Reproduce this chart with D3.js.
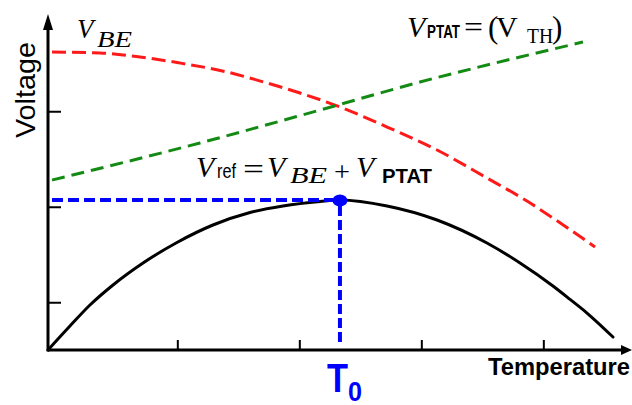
<!DOCTYPE html>
<html>
<head>
<meta charset="utf-8">
<script src="https://cdn.jsdelivr.net/npm/d3@7"></script>
<style>
  html, body { margin: 0; padding: 0; background: #fff; }
  svg { display: block; }
  .sans { font-family: "Liberation Sans", Arial, sans-serif; }
  .serif { font-family: "Liberation Serif", "Times New Roman", serif; }
</style>
</head>
<body>
<svg id="chart" width="632" height="405"></svg>
<script>
// Temperature / voltage curves of a bandgap reference (arbitrary units)
const tempTicks = [1.06, 2.06, 3.06, 4.06];
const voltTicks = [0.5, 1.5, 2.5];

// V_BE: falls with temperature
const vbeT = [0.033, 0.426, 0.754, 1.082, 1.467, 1.795, 2.066, 2.393, 2.779, 3.189, 3.598, 3.926, 4.139, 4.320, 4.484];
const vbeV = [3.120, 3.110, 3.068, 3.005, 2.911, 2.796, 2.691, 2.545, 2.335, 2.094, 1.801, 1.560, 1.382, 1.225, 1.079];

// V_PTAT: rises with temperature
const ptatT = [0.033, 1.246, 2.230, 3.049, 3.869, 4.385];
const ptatV = [1.780, 2.168, 2.513, 2.806, 3.068, 3.225];

// V_ref = V_BE + V_PTAT
const refT = [0, 0.180, 0.344, 0.533, 0.779, 1.057, 1.352, 1.656, 1.926, 2.230, 2.393, 2.779, 3.189, 3.598, 3.869, 4.139, 4.279, 4.418, 4.631];
const refV = [0, 0.251, 0.471, 0.681, 0.911, 1.126, 1.309, 1.440, 1.508, 1.555, 1.571, 1.508, 1.361, 1.120, 0.911, 0.670, 0.530, 0.387, 0.136];

// turning point of V_ref
const T0 = 2.393;
const Vpeak = 1.571;

const svg = d3.select("#chart");

const x = d3.scaleLinear().domain([0, 4.8]).range([48, 48 + 4.8 * 122]);
const y = d3.scaleLinear().domain([0, 3.5]).range([350, 350 - 3.5 * 95.5]);

const zip = (a, b) => a.map((t, i) => [t, b[i]]);
const line = d3.line().x(d => x(d[0])).y(d => y(d[1])).curve(d3.curveMonotoneX);

// axes with arrow heads
const xEnd = 4.787, yEnd = 3.518;
svg.append("line")
  .attr("x1", x(0)).attr("y1", y(0)).attr("x2", x(xEnd) - 6).attr("y2", y(0))
  .attr("stroke", "#000").attr("stroke-width", 3);
svg.append("path")
  .attr("d", `M${x(xEnd)},${y(0)} L${x(xEnd) - 11},${y(0) - 5} L${x(xEnd) - 11},${y(0) + 5} Z`)
  .attr("fill", "#000");
svg.append("line")
  .attr("x1", x(0)).attr("y1", y(0) + 1.5).attr("x2", x(0)).attr("y2", y(yEnd) + 8)
  .attr("stroke", "#000").attr("stroke-width", 3);
svg.append("path")
  .attr("d", `M${x(0)},${y(yEnd)} L${x(0) - 5},${y(yEnd) + 16} L${x(0) + 5},${y(yEnd) + 16} Z`)
  .attr("fill", "#000");

const yAxis = svg.append("g")
  .attr("transform", `translate(${x(0)},0)`)
  .call(d3.axisRight(y).tickValues(voltTicks).tickSize(13).tickFormat(""));
yAxis.select(".domain").remove();
yAxis.selectAll(".tick line").attr("stroke", "#000").attr("stroke-width", 2);

const xAxis = svg.append("g")
  .attr("transform", `translate(0,${y(0)})`)
  .call(d3.axisTop(x).tickValues(tempTicks).tickSize(10).tickFormat(""));
xAxis.select(".domain").remove();
xAxis.selectAll(".tick line").attr("stroke", "#000").attr("stroke-width", 2);

// curves
svg.append("path").datum(zip(vbeT, vbeV))
  .attr("d", line).attr("fill", "none")
  .attr("stroke", "#ff1a1a").attr("stroke-width", 3).attr("stroke-dasharray", "14,6");

svg.append("path").datum(zip(ptatT, ptatV))
  .attr("d", line).attr("fill", "none")
  .attr("stroke", "#138a13").attr("stroke-width", 3).attr("stroke-dasharray", "13,7");

svg.append("path").datum(zip(refT, refV))
  .attr("d", line).attr("fill", "none")
  .attr("stroke", "#000").attr("stroke-width", 3).attr("stroke-linecap", "round");

// T0 guide lines and marker
svg.append("line")
  .attr("x1", x(0.033)).attr("y1", y(Vpeak)).attr("x2", x(T0) - 4).attr("y2", y(Vpeak))
  .attr("stroke", "#0000ff").attr("stroke-width", 4).attr("stroke-dasharray", "11,5");
svg.append("line")
  .attr("x1", x(T0)).attr("y1", y(Vpeak) + 6).attr("x2", x(T0)).attr("y2", y(0.08))
  .attr("stroke", "#0000ff").attr("stroke-width", 4).attr("stroke-dasharray", "10,4");
svg.append("ellipse")
  .attr("cx", x(T0)).attr("cy", y(Vpeak) + 0.5).attr("rx", 7.5).attr("ry", 6)
  .attr("fill", "#0000ff");

// axis titles
svg.append("text").attr("class", "sans")
  .attr("transform", "translate(35,90) rotate(-90)")
  .attr("text-anchor", "middle").attr("font-size", 28)
  .attr("textLength", 96).attr("lengthAdjust", "spacingAndGlyphs")
  .text("Voltage");

svg.append("text").attr("class", "sans")
  .attr("x", 488).attr("y", 375)
  .attr("font-size", 23).attr("font-weight", "bold")
  .attr("textLength", 142).attr("lengthAdjust", "spacingAndGlyphs")
  .text("Temperature");

// T0 label
svg.append("text").attr("class", "sans")
  .attr("x", 327).attr("y", 392).attr("fill", "#0000ff")
  .attr("font-size", 41).attr("font-weight", "bold")
  .attr("textLength", 21).attr("lengthAdjust", "spacingAndGlyphs")
  .text("T");
svg.append("text").attr("class", "sans")
  .attr("x", 348).attr("y", 401).attr("fill", "#0000ff")
  .attr("font-size", 27).attr("font-weight", "bold")
  .attr("textLength", 14).attr("lengthAdjust", "spacingAndGlyphs")
  .text("0");

// helper for one text piece
function piece(px, py, str, cls, size, opts = {}) {
  const t = svg.append("text").attr("class", cls)
    .attr("x", px).attr("y", py).attr("font-size", size).text(str);
  if (opts.italic) t.attr("font-style", "italic");
  if (opts.bold) t.attr("font-weight", "bold");
  if (opts.len) t.attr("textLength", opts.len).attr("lengthAdjust", "spacingAndGlyphs");
  return t;
}

// V_BE label
piece(77, 38, "V", "serif", 27, { italic: true });
piece(97, 47, "BE", "serif", 23, { italic: true, len: 35 });

// V_PTAT = (V_TH) label
piece(407, 37, "V", "serif", 30, { italic: true });
piece(427, 38, "PTAT", "sans", 18, { bold: true, len: 33 });
piece(464, 37, "=", "serif", 30, { len: 19 });
piece(488, 38, "(", "serif", 31);
piece(496, 37, "V", "serif", 30);
piece(527, 43, "TH", "serif", 20, { len: 26 });
piece(552, 38, ")", "serif", 31);

// V_ref = V_BE + V_PTAT label
piece(196, 177, "V", "serif", 30, { italic: true });
piece(217, 178, "ref", "sans", 21, { len: 19 });
piece(243, 179, "=", "serif", 30, { len: 21 });
piece(267, 177, "V", "serif", 30, { italic: true });
piece(290, 183, "BE", "serif", 23, { italic: true, len: 37 });
piece(334, 181, "+", "serif", 28, { len: 16 });
piece(356, 177, "V", "serif", 30, { italic: true });
piece(382, 183, "PTAT", "sans", 21, { bold: true, len: 50 });
</script>
</body>
</html>
